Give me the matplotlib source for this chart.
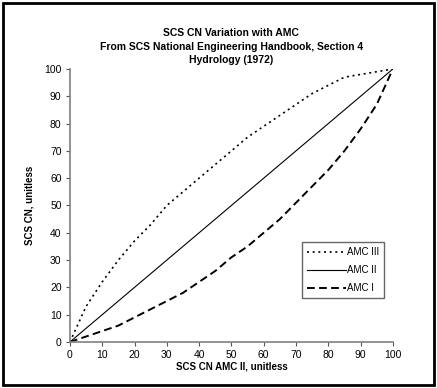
import matplotlib
matplotlib.use("Agg")
import matplotlib.pyplot as plt
from matplotlib.patches import Rectangle

# SCS NEH-4 (1972) AMC conversion table
cn_amc2 = [0, 5, 10, 15, 20, 25, 30, 35, 40, 45, 50, 55, 60, 65, 70, 75, 80, 85, 90, 95, 100]
cn_amc1 = [0, 2, 4, 6, 9, 12, 15, 18, 22, 26, 31, 35, 40, 45, 51, 57, 63, 70, 78, 87, 100]
cn_amc3 = [0, 13, 22, 30, 37, 43, 50, 55, 60, 65, 70, 75, 79, 83, 87, 91, 94, 97, 98, 99, 100]

plt.rcParams['font.family'] = ['Liberation Sans', 'DejaVu Sans']

fig = plt.figure(figsize=(4.37, 3.88), dpi=100)
ax = fig.add_axes([0.160, 0.1186, 0.739, 0.7036])

ax.plot(cn_amc2, cn_amc3, color='black', linestyle=(0, (1.2, 2.2)), linewidth=1.2, label='AMC III')
ax.plot(cn_amc2, cn_amc2, color='black', linestyle='-', linewidth=0.8, label='AMC II')
ax.plot(cn_amc2, cn_amc1, color='black', linestyle=(0, (4, 2.2)), linewidth=1.4, label='AMC I')

ax.set_xlim(0, 100)
ax.set_ylim(0, 100)
ax.set_xticks(range(0, 101, 10))
ax.set_yticks(range(0, 101, 10))
ax.tick_params(labelsize=7.5, length=3, width=0.8, color='#555555', pad=3)
for s in ['top', 'right']:
    ax.spines[s].set_visible(False)
for s in ['left', 'bottom']:
    ax.spines[s].set_color('#808080')
    ax.spines[s].set_linewidth(1.2)

ax.set_title('SCS CN Variation with AMC\nFrom SCS National Engineering Handbook, Section 4\nHydrology (1972)',
             fontsize=7.5, fontweight='bold', linespacing=1.45, pad=4)
ax.set_xlabel('SCS CN AMC II, unitless', fontsize=7, fontweight='bold', labelpad=1)
ax.set_ylabel('SCS CN, unitless', fontsize=7, fontweight='bold', labelpad=7)

leg = ax.legend(loc='upper right', bbox_to_anchor=(0.972, 0.366), fontsize=7, frameon=True,
                fancybox=False, edgecolor='#404040', handlelength=4.0, handletextpad=0.1,
                borderpad=0.5, labelspacing=0.85, borderaxespad=0)
leg.get_frame().set_linewidth(1.0)

fig.patches.append(Rectangle((0.006, 0.008), 0.988, 0.984, transform=fig.transFigure,
                             fill=False, edgecolor='black', linewidth=2))

fig.savefig('out.png', dpi=100)
